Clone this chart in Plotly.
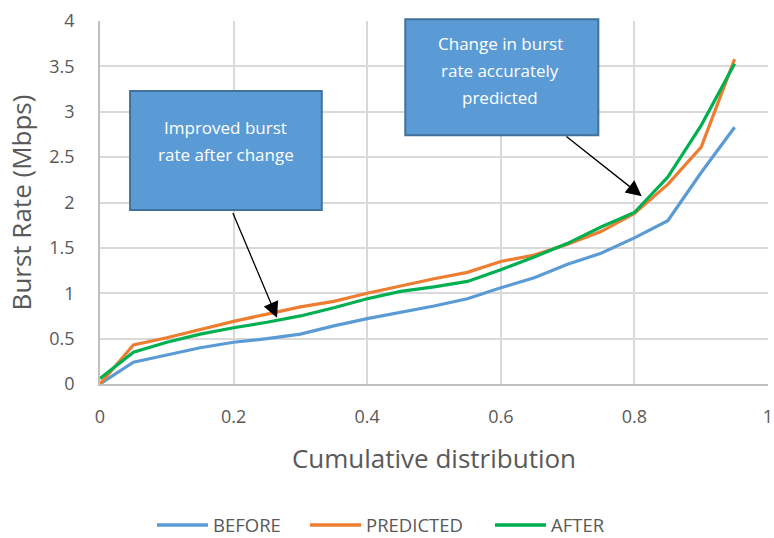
import plotly.graph_objects as go

# Cumulative distribution levels and burst rates (Mbps)
cdf = [0, 0.05, 0.1, 0.15, 0.2, 0.25, 0.3, 0.35, 0.4, 0.45,
       0.5, 0.55, 0.6, 0.65, 0.7, 0.75, 0.8, 0.85, 0.9, 0.95]
before = [0.0, 0.24, 0.32, 0.40, 0.46, 0.50, 0.55, 0.64, 0.72, 0.79,
          0.86, 0.94, 1.06, 1.17, 1.32, 1.44, 1.61, 1.80, 2.33, 2.83]
predicted = [0.0, 0.43, 0.51, 0.60, 0.69, 0.77, 0.85, 0.91, 1.00, 1.08,
             1.16, 1.23, 1.35, 1.42, 1.54, 1.68, 1.88, 2.20, 2.61, 3.58]
after = [0.06, 0.35, 0.46, 0.55, 0.62, 0.68, 0.75, 0.84, 0.94, 1.02,
         1.07, 1.13, 1.26, 1.40, 1.55, 1.73, 1.89, 2.28, 2.85, 3.53]

y_ticks = [0, 0.5, 1, 1.5, 2, 2.5, 3, 3.5, 4]
y_labels = ["0", "0.5", "1", "1.5", "2", "2.5", "3", "3.5", "4"]
x_ticks = [0, 0.2, 0.4, 0.6, 0.8, 1]
x_labels = ["0", "0.2", "0.4", "0.6", "0.8", "1"]

series = [("BEFORE", before, "#5B9BD5"),
          ("PREDICTED", predicted, "#ED7D31"),
          ("AFTER", after, "#00B050")]

# Callout text, one entry per line
callout_left = ["Improved burst", "rate after change"]
callout_right = ["Change in burst", "rate accurately", "predicted"]

FONT = "Open Sans"
GREY = "#595959"

fig = go.Figure()
for name, vals, col in series:
    fig.add_trace(go.Scatter(x=cdf, y=vals, mode="lines", name=name,
                             line=dict(color=col, width=3.2), showlegend=False))

# Legend row below the x-axis title: a line sample followed by the series name
legend_y = -0.3884
legend_starts = [0.0853, 0.3144, 0.5913]   # left end of each line sample (paper x)
sample_len = 0.0764
for (name, _, col), x0 in zip(series, legend_starts):
    fig.add_shape(type="line", xref="paper", yref="paper",
                  x0=x0, x1=x0 + sample_len, y0=legend_y, y1=legend_y,
                  line=dict(color=col, width=3.5))
    fig.add_annotation(x=x0 + sample_len + 0.006, y=legend_y, xref="paper", yref="paper",
                       xanchor="left", yanchor="middle", text=name, showarrow=False,
                       borderpad=0,
                       font=dict(family=FONT, size=18.5, color=GREY))

box_fill = "#5B9BD5"
box_line = "#41719C"

# Callout boxes
fig.add_shape(type="rect", xref="x", yref="y", x0=0.045, x1=0.332, y0=1.917, y1=3.23,
              fillcolor=box_fill, line=dict(color=box_line, width=2), layer="above")
fig.add_shape(type="rect", xref="x", yref="paper", x0=0.457, x1=0.746, y0=0.6856, y1=1.005,
              fillcolor=box_fill, line=dict(color=box_line, width=2), layer="above")

LINE_STEP = 0.298  # line spacing of callout text, in data units
for i, txt in enumerate(callout_left):
    fig.add_annotation(x=0.1886, y=2.832 - i * LINE_STEP, xref="x", yref="y",
                       text=txt, showarrow=False,
                       font=dict(family=FONT, size=17, color="white"))
for i, txt in enumerate(callout_right):
    fig.add_annotation(x=0.599, y=3.754 - i * LINE_STEP, xref="x", yref="y",
                       text=txt, showarrow=False,
                       font=dict(family=FONT, size=17, color="white"))

# Arrows pointing at the curves
fig.add_annotation(x=0.265, y=0.73, xref="x", yref="y",
                   ax=0.198, ay=1.90, axref="x", ayref="y",
                   text="", showarrow=True, arrowhead=2, arrowsize=2.4,
                   arrowwidth=1.3, arrowcolor="black")
fig.add_annotation(x=0.811, y=2.07, xref="x", yref="y",
                   ax=0.696, ay=2.74, axref="x", ayref="y",
                   text="", showarrow=True, arrowhead=2, arrowsize=2.4,
                   arrowwidth=1.3, arrowcolor="black")

fig.update_layout(
    width=774, height=538,
    margin=dict(l=100, r=6, t=21, b=154, autoexpand=False),
    paper_bgcolor="white", plot_bgcolor="white",
    font=dict(family=FONT, color=GREY),
    showlegend=False,
)
fig.update_xaxes(range=[0, 1], tickvals=x_ticks, ticktext=x_labels,
                 automargin=False,
                 showgrid=True, gridcolor="#D9D9D9", gridwidth=1.5,
                 showline=True, linecolor="#BFBFBF", linewidth=1.5,
                 zeroline=False, ticks="", ticklabelstandoff=16,
                 tickfont=dict(family=FONT, size=18, color=GREY),
                 title=dict(text="Cumulative distribution", standoff=22,
                            font=dict(family=FONT, size=26, color=GREY)))
fig.update_yaxes(range=[0, 4], tickvals=y_ticks, ticktext=y_labels,
                 automargin=False,
                 showgrid=True, gridcolor="#D9D9D9", gridwidth=1.5,
                 showline=True, linecolor="#BFBFBF", linewidth=1.5,
                 zeroline=False, ticks="", ticklabelstandoff=20,
                 tickfont=dict(family=FONT, size=18, color=GREY),
                 title=dict(text="Burst Rate (Mbps)", standoff=10,
                            font=dict(family=FONT, size=26, color=GREY)))

fig.write_html("out.html")
